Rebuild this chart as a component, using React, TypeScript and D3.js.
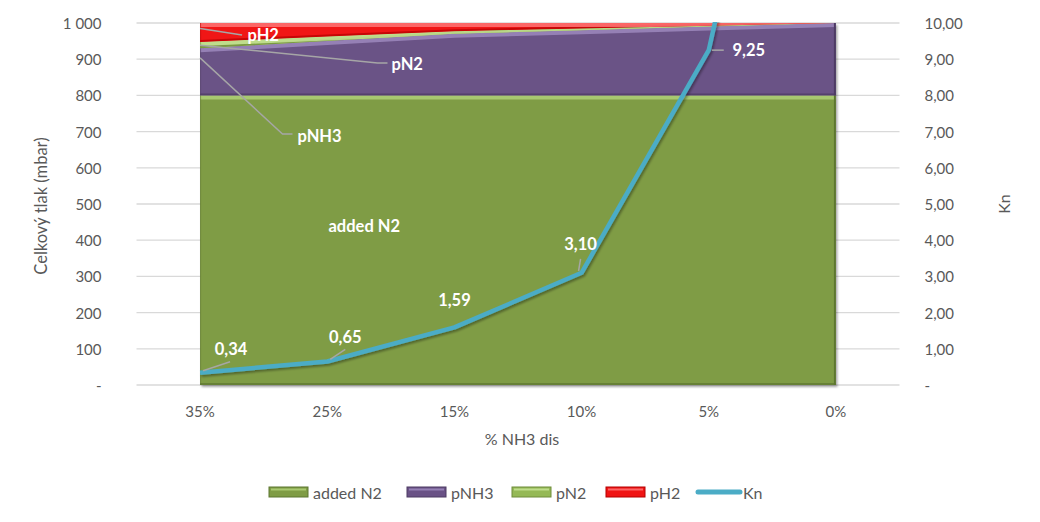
import React from 'react';
import * as d3 from 'd3';

// x categories (% NH3 dissociation)
const categories = ['35%', '25%', '15%', '10%', '5%', '0%'];

// stacked partial pressures (mbar)
const addedN2 = [800, 800, 800, 800, 800, 800];
const pNH3 = [130, 150, 170, 180, 190, 200];
const pN2 = [17.5, 12.5, 7.5, 5, 2.5, 0];
const pH2 = [52.5, 37.5, 22.5, 15, 7.5, 0];

// nitriding potential on the secondary axis
const kn = [0.34, 0.65, 1.59, 3.1, 9.25, 25];
const knLabels = ['0,34', '0,65', '1,59', '3,10', '9,25'];

const pressureTicks = [0, 100, 200, 300, 400, 500, 600, 700, 800, 900, 1000];
const knTicks = [0, 1, 2, 3, 4, 5, 6, 7, 8, 9, 10];

const seriesKeys = ['added N2', 'pNH3', 'pN2', 'pH2'];

const W = 1040;
const H = 522;
const margin = { top: 23, right: 140.5, bottom: 137, left: 136.5 };
const FONT = 'Lato, "Open Sans", sans-serif';

const fills: Record<string, { base: string; light: string; dark: string }> = {
  'added N2': { base: '#7f9c45', light: '#b3d57a', dark: '#5d7630' },
  pNH3: { base: '#6a5286', light: '#a08cc0', dark: '#4d3b63' },
  pN2: { base: '#95b956', light: '#c9e69a', dark: '#6f8c3a' },
  pH2: { base: '#f01414', light: '#ff7a7a', dark: '#b30000' },
};

// manual placement of the Kn data labels (relative to the point)
const knLabelLayout = [
  { dx: 31, dy: -24, lx: 30, ly: -11 },
  { dx: 18, dy: -24, lx: 18, ly: -12 },
  { dx: 0, dy: -27, lx: 0, ly: 0 },
  { dx: -1, dy: -29, lx: -1, ly: -14 },
  { dx: 40, dy: 0, lx: 15, ly: 0 },
];

const fmtPressure = (v: number) => (v === 0 ? '-' : d3.format(',')(v).replace(/,/g, ' '));
const fmtKn = (v: number) => (v === 0 ? '-' : v.toFixed(2).replace('.', ','));
const idOf = (k: string) => k.replace(' ', '');

export default function App() {
  const innerW = W - margin.left - margin.right;
  const innerH = H - margin.top - margin.bottom;
  const x0 = margin.left;
  const y0 = margin.top;

  const x = d3.scaleBand<string>().domain(categories).range([x0, x0 + innerW]).padding(0);
  const cx = (c: string) => (x(c) as number) + x.bandwidth() / 2;
  const y = d3.scaleLinear().domain([0, 1000]).range([y0 + innerH, y0]);
  const yKn = d3.scaleLinear().domain([0, 10]).range([y0 + innerH, y0]);

  const rows = categories.map((c, i) => ({
    cat: c,
    'added N2': addedN2[i],
    pNH3: pNH3[i],
    pN2: pN2[i],
    pH2: pH2[i],
  }));
  const stacked = d3.stack<any>().keys(seriesKeys)(rows);

  const area = d3
    .area<any>()
    .x((d) => cx(d.data.cat))
    .y0((d) => y(d[0]))
    .y1((d) => y(d[1]));
  const topLine = d3
    .line<any>()
    .x((d) => cx(d.data.cat))
    .y((d) => y(d[1]) + 2);
  const bottomLine = d3
    .line<any>()
    .x((d) => cx(d.data.cat))
    .y((d) => y(d[0]) - 1);

  const knLine = d3
    .line<number>()
    .x((_, i) => cx(categories[i]))
    .y((d) => yKn(d));

  const firstX = cx(categories[0]);
  const lastX = cx(categories[categories.length - 1]);

  // leader lines for the series labels
  const s = (key: string) => stacked.find((l) => l.key === key)!;
  const midOf = (key: string, i: number) => y((s(key)[i][0] + s(key)[i][1]) / 2);

  const legend = [
    { key: 'added N2', x: 269 },
    { key: 'pNH3', x: 407 },
    { key: 'pN2', x: 512 },
    { key: 'pH2', x: 606 },
    { key: 'Kn', x: 697 },
  ];

  return (
    <svg
      width={W}
      height={H}
      style={{ position: 'absolute', left: 0, top: 0, background: '#fff' }}
      fontFamily={FONT}
    >
      <defs>
        <clipPath id="plot-clip">
          <rect x={x0} y={y0 - 1} width={innerW} height={innerH + 1} />
        </clipPath>
        {stacked.map((layer) => (
          <clipPath key={layer.key} id={`clip-${idOf(layer.key)}`}>
            <path d={area(layer) as string} />
          </clipPath>
        ))}
        <filter id="shadow" x="-10%" y="-10%" width="120%" height="120%">
          <feDropShadow dx="1.5" dy="2" stdDeviation="1.2" floodColor="#000" floodOpacity="0.35" />
        </filter>
      </defs>

      {/* gridlines */}
      <g>
        {pressureTicks.map((t) => (
          <line key={t} x1={x0} x2={x0 + innerW} y1={y(t)} y2={y(t)} stroke="#d9d9d9" strokeWidth={1.3} />
        ))}
      </g>

      {/* stacked areas */}
      <g filter="url(#shadow)">
        {stacked.map((layer) => (
          <path key={layer.key} d={area(layer) as string} fill={fills[layer.key].base} />
        ))}
      </g>
      <g>
        {stacked.map((layer) => (
          <g key={layer.key} clipPath={`url(#clip-${idOf(layer.key)})`}>
            <path d={bottomLine(layer) as string} fill="none" stroke={fills[layer.key].dark} strokeWidth={2} opacity={0.7} />
            <path d={topLine(layer) as string} fill="none" stroke={fills[layer.key].light} strokeWidth={4} opacity={0.8} />
            <line x1={lastX - 1} x2={lastX - 1} y1={y0} y2={y0 + innerH} stroke={fills[layer.key].dark} strokeWidth={2} />
            <line x1={firstX + 0.5} x2={firstX + 0.5} y1={y0} y2={y0 + innerH} stroke={fills[layer.key].dark} strokeWidth={1} opacity={0.6} />
          </g>
        ))}
      </g>

      {/* series labels with leader lines */}
      <g stroke="#a6a6a6" strokeWidth={1.5} fill="none">
        <polyline points={`${firstX},${midOf('pH2', 0) - 4} ${firstX + 42},${y0 + 12} `} />
        <polyline points={`${firstX},${midOf('pN2', 0)} ${x0 + 241},${y0 + 40} ${x0 + 251},${y0 + 40}`} />
        <polyline points={`${firstX},${midOf('pNH3', 0) - 14} ${x0 + 146},${y0 + 111} ${x0 + 156},${y0 + 111}`} />
      </g>
      <g fill="#fff" fontWeight="bold" fontSize={16.5}>
        <text x={x0 + 111} y={y0 + 18}>pH2</text>
        <text x={x0 + 255} y={y0 + 47}>pN2</text>
        <text x={x0 + 161} y={y0 + 119}>pNH3</text>
        <text x={x0 + 192} y={y(600) + 64}>added N2</text>
      </g>

      {/* Kn line */}
      <g clipPath="url(#plot-clip)">
        <path
          d={knLine(kn) as string}
          fill="none"
          stroke="#4bacc6"
          strokeWidth={4.5}
          strokeLinejoin="round"
          filter="url(#shadow)"
        />
      </g>

      {/* Kn data labels */}
      <g>
        {knLabels.map((lab, i) => {
          const px = cx(categories[i]);
          const py = yKn(kn[i]);
          const l = knLabelLayout[i];
          return (
            <g key={lab}>
              {(l.lx !== 0 || l.ly !== 0) && (
                <line
                  x1={px + (l.lx === 0 ? 0 : Math.sign(l.lx) * 3)}
                  y1={py + (l.ly === 0 ? 0 : -2)}
                  x2={px + l.lx}
                  y2={py + l.ly}
                  stroke="#a6a6a6"
                  strokeWidth={1.5}
                />
              )}
              <text
                x={px + l.dx}
                y={py + l.dy}
                textAnchor="middle"
                dominantBaseline="central"
                fill="#fff"
                fontWeight="bold"
                fontSize={16.5}
              >
                {lab}
              </text>
            </g>
          );
        })}
      </g>

      {/* left axis */}
      <g fill="#595959" fontSize={15}>
        {pressureTicks.map((t) => (
          <text key={t} x={x0 - 35} y={y(t)} textAnchor="end" dominantBaseline="central">
            {fmtPressure(t)}
          </text>
        ))}
      </g>
      {/* right axis */}
      <g fill="#595959" fontSize={15}>
        {knTicks.map((t) => (
          <text key={t} x={x0 + innerW + 25} y={yKn(t)} textAnchor="start" dominantBaseline="central">
            {fmtKn(t)}
          </text>
        ))}
      </g>
      {/* x axis */}
      <g fill="#595959" fontSize={15}>
        {categories.map((c) => (
          <text key={c} x={cx(c)} y={y0 + innerH + 26} textAnchor="middle" dominantBaseline="central">
            {c}
          </text>
        ))}
      </g>

      {/* axis titles */}
      <text
        transform={`translate(41,${y0 + innerH / 2 + 2}) rotate(-90)`}
        textAnchor="middle"
        dominantBaseline="central"
        fill="#595959"
        fontSize={16.5}
      >
        Celkový tlak (mbar)
      </text>
      <text
        transform={`translate(1003,${y0 + innerH / 2}) rotate(-90)`}
        textAnchor="middle"
        dominantBaseline="central"
        fill="#595959"
        fontSize={16}
      >
        Kn
      </text>
      <text x={x0 + innerW / 2 + 4} y={y0 + innerH + 53} textAnchor="middle" dominantBaseline="central" fill="#595959" fontSize={16}>
        % NH3 dis
      </text>

      {/* legend */}
      <g fontSize={16} fill="#595959">
        {legend.map((item) => (
          <g key={item.key} transform={`translate(${item.x},492)`}>
            {item.key === 'Kn' ? (
              <line x1={1} x2={43} y1={0} y2={0} stroke="#4bacc6" strokeWidth={5} strokeLinecap="round" />
            ) : (
              <g>
                <rect x={0} y={-5} width={39} height={10} fill={fills[item.key].base} stroke={fills[item.key].dark} strokeWidth={1} />
                <rect x={2} y={-3.5} width={35} height={2} fill={fills[item.key].light} opacity={0.8} />
              </g>
            )}
            <text x={item.key === 'Kn' ? 46 : 44} y={0} dominantBaseline="central">
              {item.key}
            </text>
          </g>
        ))}
      </g>
    </svg>
  );
}
